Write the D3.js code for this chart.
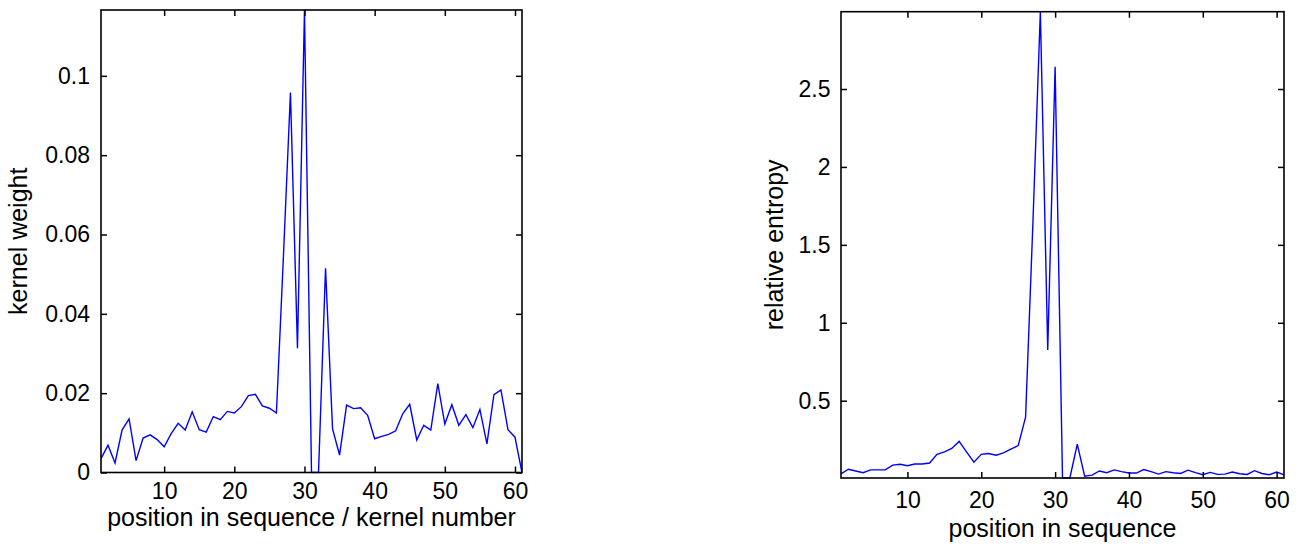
<!DOCTYPE html>
<html>
<head>
<meta charset="utf-8">
<script src="https://cdn.jsdelivr.net/npm/d3@7"></script>
<style>
  html, body { margin: 0; padding: 0; background: #fff; }
  svg { display: block; }
  text { font-family: "Liberation Sans", Arial, Helvetica, sans-serif; fill: #000; }
</style>
</head>
<body>
<svg id="chart" width="1299" height="544"></svg>
<script>
// ---- data ----
const positions = d3.range(1, 62);
const kernelWeight = [
  0.0035, 0.0069, 0.0024, 0.0107, 0.0135, 0.0030, 0.0087, 0.0095, 0.0083, 0.0065,
  0.0098, 0.0124, 0.0107, 0.0153, 0.0108, 0.0102, 0.0141, 0.0133, 0.0154, 0.0150,
  0.0166, 0.0194, 0.0197, 0.0168, 0.0162, 0.0150, 0.0545, 0.0958, 0.0313, 0.1166,
  0.0000, 0.0000, 0.0515, 0.0110, 0.0044, 0.0170, 0.0161, 0.0163, 0.0144, 0.0085,
  0.0091, 0.0096, 0.0105, 0.0148, 0.0172, 0.0082, 0.0119, 0.0107, 0.0224, 0.0122,
  0.0171, 0.0119, 0.0146, 0.0113, 0.0159, 0.0072, 0.0196, 0.0208, 0.0108, 0.0089,
  0.0000
];
const relativeEntropy = [
  0.031, 0.060, 0.049, 0.038, 0.056, 0.056, 0.056, 0.087, 0.092, 0.083,
  0.094, 0.094, 0.100, 0.156, 0.172, 0.194, 0.239, 0.172, 0.105, 0.156,
  0.161, 0.150, 0.165, 0.190, 0.212, 0.395, 1.650, 2.996, 0.826, 2.643,
  0.004, 0.004, 0.221, 0.016, 0.022, 0.049, 0.038, 0.056, 0.045, 0.036,
  0.036, 0.058, 0.045, 0.029, 0.045, 0.038, 0.033, 0.054, 0.038, 0.025,
  0.040, 0.027, 0.029, 0.042, 0.031, 0.027, 0.051, 0.033, 0.025, 0.042,
  0.025
];
const xTicks = [10, 20, 30, 40, 50, 60];
const xTickLabels = ["10", "20", "30", "40", "50", "60"];
const leftYTicks = [0, 0.02, 0.04, 0.06, 0.08, 0.1];
const leftYTickLabels = ["0", "0.02", "0.04", "0.06", "0.08", "0.1"];
const rightYTicks = [0.5, 1, 1.5, 2, 2.5];
const rightYTickLabels = ["0.5", "1", "1.5", "2", "2.5"];

const svg = d3.select("#chart");

function panel(cfg) {
  const x = d3.scaleLinear().domain([1, 61]).range([cfg.left, cfg.right]);
  const y = d3.scaleLinear().domain(cfg.yDomain).range([cfg.bottom, cfg.top]);
  const g = svg.append("g");
  const tickLen = 6;

  const clipId = "clip-" + cfg.id;
  svg.append("clipPath").attr("id", clipId)
    .append("rect")
    .attr("x", cfg.left).attr("y", cfg.top - 1)
    .attr("width", cfg.right - cfg.left).attr("height", cfg.bottom - cfg.top + 2);

  // line
  const line = d3.line().x((d, i) => x(positions[i])).y(d => y(d));
  g.append("path")
    .datum(cfg.values)
    .attr("clip-path", `url(#${clipId})`)
    .attr("fill", "none")
    .attr("stroke", "#0000ff")
    .attr("stroke-width", 1.4)
    .attr("stroke-linejoin", "miter")
    .attr("d", line);

  const fmtX = (d) => xTickLabels[xTicks.indexOf(d)];
  const fmtY = (d) => cfg.yLabels[cfg.yTicks.indexOf(d)];

  // bottom axis
  const gb = g.append("g").attr("transform", `translate(0,${cfg.bottom})`)
    .call(d3.axisBottom(x).tickValues(xTicks).tickFormat(fmtX)
      .tickSizeInner(-tickLen).tickSizeOuter(0).tickPadding(cfg.xPad));
  // top axis (mirror ticks)
  const gt = g.append("g").attr("transform", `translate(0,${cfg.top})`)
    .call(d3.axisTop(x).tickValues(xTicks).tickFormat("")
      .tickSizeInner(-tickLen).tickSizeOuter(0));
  // left axis
  const gl = g.append("g").attr("transform", `translate(${cfg.left},0)`)
    .call(d3.axisLeft(y).tickValues(cfg.yTicks).tickFormat(fmtY)
      .tickSizeInner(-tickLen).tickSizeOuter(0).tickPadding(cfg.yPad));
  // right axis (mirror ticks)
  const gr = g.append("g").attr("transform", `translate(${cfg.right},0)`)
    .call(d3.axisRight(y).tickValues(cfg.yTicks).tickFormat("")
      .tickSizeInner(-tickLen).tickSizeOuter(0));

  [gb, gt, gl, gr].forEach(a => {
    a.select(".domain").remove();
    a.selectAll(".tick line").attr("stroke", "#000").attr("stroke-width", 1.5);
    a.selectAll(".tick text")
      .attr("fill", "#000")
      .style("font-family", '"Liberation Sans", Arial, Helvetica, sans-serif')
      .style("font-size", "23px");
  });

  // box
  g.append("rect")
    .attr("x", cfg.left).attr("y", cfg.top)
    .attr("width", cfg.right - cfg.left).attr("height", cfg.bottom - cfg.top)
    .attr("fill", "none").attr("stroke", "#000").attr("stroke-width", 1.6);

  // x label
  g.append("text")
    .attr("x", (cfg.left + cfg.right) / 2)
    .attr("y", cfg.xLabelY)
    .attr("text-anchor", "middle")
    .style("font-size", "25px")
    .text(cfg.xLabel);

  // y label
  g.append("text")
    .attr("transform", `translate(${cfg.yLabelX},${(cfg.top + cfg.bottom) / 2}) rotate(-90)`)
    .attr("text-anchor", "middle")
    .style("font-size", "25px")
    .text(cfg.yLabel);
}

panel({
  id: "left",
  left: 101, right: 522, top: 10, bottom: 472.5,
  yDomain: [0, 0.1166],
  values: kernelWeight,
  yTicks: leftYTicks, yLabels: leftYTickLabels,
  xPad: 10, yPad: 11,
  xLabel: "position in sequence / kernel number", xLabelY: 526,
  yLabel: "kernel weight", yLabelX: 27
});

panel({
  id: "right",
  left: 841, right: 1284, top: 11.7, bottom: 478,
  yDomain: [0.004, 2.996],
  values: relativeEntropy,
  yTicks: rightYTicks, yLabels: rightYTickLabels,
  xPad: 13.5, yPad: 10.5,
  xLabel: "position in sequence", xLabelY: 536.5,
  yLabel: "relative entropy", yLabelX: 783
});
</script>
</body>
</html>
